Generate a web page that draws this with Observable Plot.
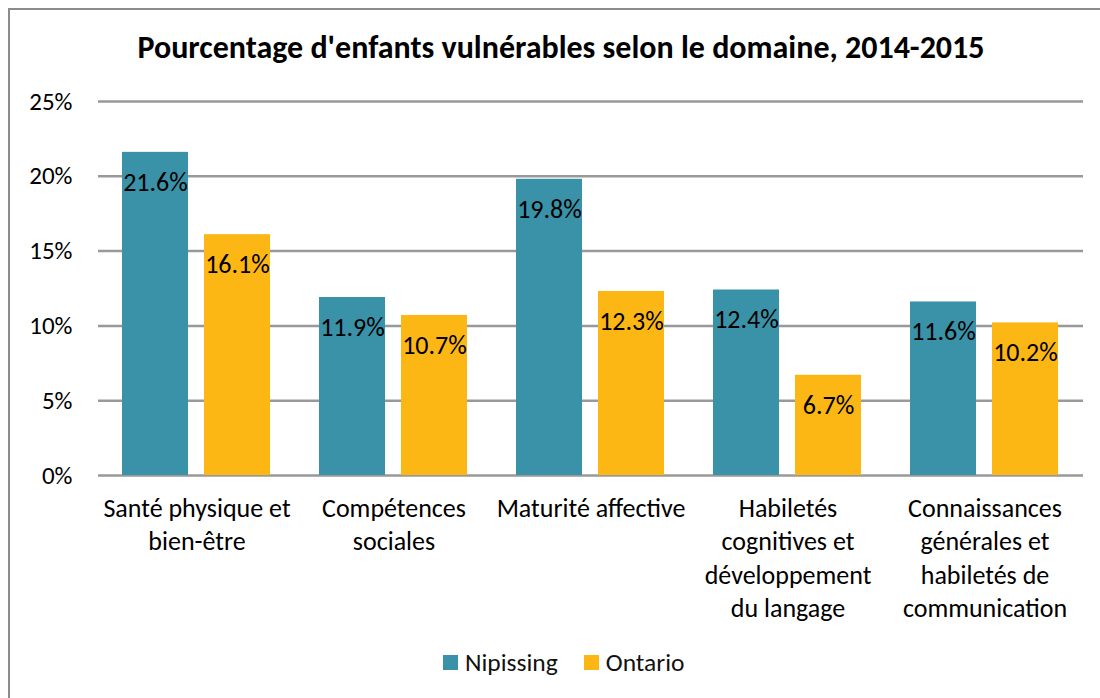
<!DOCTYPE html>
<html>
<head>
<meta charset="utf-8">
<script src="https://cdn.jsdelivr.net/npm/d3@7"></script>
<script src="https://cdn.jsdelivr.net/npm/@observablehq/plot@0.6"></script>
<style>
  html, body { margin: 0; padding: 0; background: #fff; }
  #wrap { position: relative; width: 1100px; height: 698px; overflow: hidden; font-family: Carlito, Lato, sans-serif; }
  #frame { position: absolute; left: 8px; top: 8px; width: 1200px; height: 800px; border-top: 2.5px solid #8c8c8c; border-left: 2.5px solid #8c8c8c; }
  #title { position: absolute; left: 0; width: 1122px; top: 28px; text-align: center; font-weight: bold; font-size: 32px; line-height: 40px; color: #000; }
  #chart { position: absolute; left: 0; top: 80px; }
  #legend { position: absolute; top: 647px; left: 443px; display: flex; align-items: center; font-size: 25.5px; color: #111; }
  .sw { display: inline-block; width: 15px; height: 15px; margin-right: 7px; }
</style>
</head>
<body>
<div id="wrap">
  <div id="frame"></div>
  <div id="title">Pourcentage d'enfants vulnérables selon le domaine, 2014-2015</div>
  <div id="chart"></div>
  <div id="legend"></div>
</div>
<script>
const categories = [
  "Santé physique et\nbien-être",
  "Compétences\nsociales",
  "Maturité affective",
  "Habiletés\ncognitives et\ndéveloppement\ndu langage",
  "Connaissances\ngénérales et\nhabiletés de\ncommunication"
];
const series = ["Nipissing", "Ontario"];
const nipissing = [21.6, 11.9, 19.8, 12.4, 11.6];
const ontario = [16.1, 10.7, 12.3, 6.7, 10.2];
const colors = ["#3A92A8", "#FDB714"];
const yTicks = [0, 5, 10, 15, 20, 25];

const data = [];
categories.forEach((c, i) => {
  data.push({cat: c, series: "Nipissing", value: nipissing[i]});
  data.push({cat: c, series: "Ontario", value: ontario[i]});
});

const chart = Plot.plot({
  width: 1100,
  height: 560,
  marginLeft: 98,
  marginRight: 17,
  marginTop: 21,
  marginBottom: 165,
  style: {fontFamily: "Carlito, Lato, sans-serif", fontSize: "26px", color: "#000", background: "transparent"},
  fx: {domain: categories, padding: 0, axis: null},
  x: {domain: series, paddingInner: 0.195, paddingOuter: 0.2985, axis: null},
  y: {domain: [0, 25], axis: null},
  color: {domain: series, range: colors},
  marks: [
    Plot.ruleY(yTicks, {stroke: "#999", strokeWidth: 2.5}),
    Plot.axisY({ticks: yTicks, tickSize: 0, tickPadding: 26, tickFormat: d => d + "%", fontSize: 25, label: null}),
    Plot.barY(data, {fx: "cat", x: "series", y: "value", fill: "series"}),
    Plot.text(data, {fx: "cat", x: "series", y: "value", text: d => d.value.toFixed(1) + "%", dy: 30, fill: "#000", fontSize: 26}),
    Plot.text(categories, {fx: d => d, y: () => 0, text: d => d, lineAnchor: "top", dy: 18, lineHeight: 1.28, fill: "#000", fontSize: 26})
  ]
});
document.getElementById("chart").appendChild(chart);

const legend = document.getElementById("legend");
series.forEach((s, i) => {
  const item = document.createElement("span");
  item.style.display = "inline-flex";
  item.style.alignItems = "center";
  item.style.marginRight = i === 0 ? "26px" : "0";
  item.innerHTML = `<span class="sw" style="background:${colors[i]}"></span>${s}`;
  legend.appendChild(item);
});
</script>
</body>
</html>
